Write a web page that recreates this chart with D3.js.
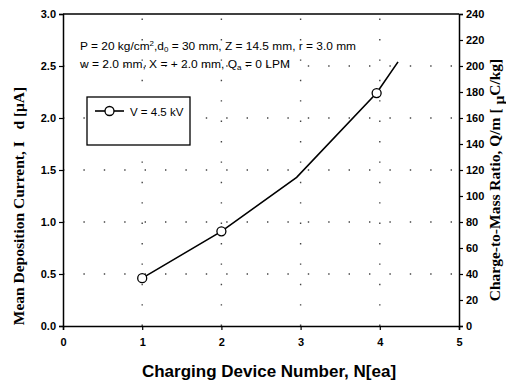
<!DOCTYPE html>
<html>
<head>
<meta charset="utf-8">
<script src="https://cdn.jsdelivr.net/npm/d3@7"></script>
<style>
  body { margin: 0; background: #fff; }
  svg { display: block; }
  .tick text { font-family: "Liberation Sans", Arial, sans-serif; font-weight: bold; font-size: 11px; fill: #000; }
</style>
</head>
<body>
<svg id="chart" width="506" height="387"></svg>
<script>
// Measured series (V = 4.5 kV)
const deviceNumber = [1, 2, 2.95, 3.96, 4.23];
const depositionCurrent = [0.46, 0.91, 1.43, 2.24, 2.54];
const hasMarker = [true, true, false, true, false];

const xTicks = [0, 1, 2, 3, 4, 5];
const yTicks = [0.0, 0.5, 1.0, 1.5, 2.0, 2.5, 3.0];
const y2Ticks = [0, 20, 40, 60, 80, 100, 120, 140, 160, 180, 200, 220, 240];

const svg = d3.select("#chart");
const m = { left: 63, right: 459, top: 14, bottom: 326 };

const x = d3.scaleLinear().domain([0, 5]).range([m.left, m.right]);
const y = d3.scaleLinear().domain([0, 3]).range([m.bottom, m.top]);
const y2 = d3.scaleLinear().domain([0, 240]).range([m.bottom, m.top]);

// sparse dotted grid
const grid = svg.append("g").attr("stroke", "#444").attr("stroke-width", 1.4)
  .attr("stroke-dasharray", "1.4,19");
grid.selectAll(".gx").data([1, 2, 3, 4]).join("line")
  .attr("x1", d => x(d)).attr("x2", d => x(d))
  .attr("y1", m.bottom).attr("y2", m.top);
grid.selectAll(".gy").data([0.5, 1.0, 1.5, 2.0, 2.5]).join("line")
  .attr("x1", m.left).attr("x2", m.right)
  .attr("y1", d => y(d)).attr("y2", d => y(d));

// axes
const xAxis = svg.append("g").attr("transform", `translate(0,${m.bottom})`)
  .call(d3.axisBottom(x).tickValues(xTicks).tickFormat(d3.format("d")).tickSize(4).tickPadding(8));
const yAxis = svg.append("g").attr("transform", `translate(${m.left},0)`)
  .call(d3.axisLeft(y).tickValues(yTicks).tickFormat(d3.format(".1f")).tickSize(4).tickPadding(3));
const y2Axis = svg.append("g").attr("transform", `translate(${m.right},0)`)
  .call(d3.axisRight(y2).tickValues(y2Ticks).tickFormat(d3.format("d")).tickSize(4).tickPadding(3));
[xAxis, yAxis, y2Axis].forEach(g => {
  g.select(".domain").attr("stroke", "#000").attr("stroke-width", 1.5);
  g.selectAll(".tick line").attr("stroke", "#000").attr("stroke-width", 1.2);
});
// top frame line
svg.append("line").attr("x1", m.left).attr("x2", m.right)
  .attr("y1", m.top).attr("y2", m.top).attr("stroke", "#000").attr("stroke-width", 1.5);

// series line
const pts = deviceNumber.map((d, i) => ({ n: d, v: depositionCurrent[i], mk: hasMarker[i] }));
svg.append("path").datum(pts)
  .attr("fill", "none").attr("stroke", "#000").attr("stroke-width", 1.6)
  .attr("d", d3.line().x(d => x(d.n)).y(d => y(d.v)));
svg.selectAll(".pt").data(pts.filter(d => d.mk)).join("circle")
  .attr("cx", d => x(d.n)).attr("cy", d => y(d.v)).attr("r", 4.5)
  .attr("fill", "#fff").attr("stroke", "#000").attr("stroke-width", 1.3);

// conditions
const note = svg.append("g").attr("font-family", "Liberation Sans, Arial, sans-serif")
  .attr("font-size", 10.5).attr("fill", "#000");
const t1 = note.append("text").attr("x", 80).attr("y", 50).attr("textLength", 276).attr("lengthAdjust", "spacingAndGlyphs");
t1.append("tspan").text("P = 20 kg/cm");
t1.append("tspan").attr("font-size", 7).attr("dy", -4).text("2");
t1.append("tspan").attr("dy", 4).text(",d");
t1.append("tspan").attr("font-size", 7).attr("dy", 2).text("0");
t1.append("tspan").attr("dy", -2).text(" = 30 mm, Z = 14.5 mm, r = 3.0 mm");
const t2 = note.append("text").attr("x", 80).attr("y", 68).attr("textLength", 210).attr("lengthAdjust", "spacingAndGlyphs");
t2.append("tspan").text("w = 2.0 mm, X = + 2.0 mm, Q");
t2.append("tspan").attr("font-size", 7).attr("dy", 2).text("a");
t2.append("tspan").attr("dy", -2).text(" = 0 LPM");

// legend
const lg = svg.append("g");
lg.append("rect").attr("x", 87).attr("y", 97).attr("width", 103).attr("height", 48)
  .attr("fill", "#fff").attr("stroke", "#000").attr("stroke-width", 1.3);
lg.append("line").attr("x1", 95).attr("x2", 124).attr("y1", 111).attr("y2", 111)
  .attr("stroke", "#000").attr("stroke-width", 1.6);
lg.append("circle").attr("cx", 109.5).attr("cy", 111).attr("r", 4.5)
  .attr("fill", "#fff").attr("stroke", "#000").attr("stroke-width", 1.3);
lg.append("text").attr("x", 130).attr("y", 115.5)
  .attr("font-family", "Liberation Sans, Arial, sans-serif").attr("font-size", 11.5)
  .text("V = 4.5 kV");

// axis titles
svg.append("text").attr("x", (m.left + m.right) / 2 + 8).attr("y", 377)
  .attr("text-anchor", "middle")
  .attr("font-family", "Liberation Sans, Arial, sans-serif").attr("font-weight", "bold").attr("font-size", 17)
  .text("Charging Device Number, N[ea]");

svg.append("text").attr("transform", "translate(24,206) rotate(-90)")
  .attr("text-anchor", "middle")
  .attr("font-family", "Liberation Serif, Times New Roman, serif").attr("font-weight", "bold").attr("font-size", 15.5)
  .text("Mean Deposition Current, I\u2002 d [\u03bcA]");

const rt = svg.append("text").attr("transform", "translate(500,180) rotate(-90)")
  .attr("text-anchor", "middle")
  .attr("font-family", "Liberation Serif, Times New Roman, serif").attr("font-weight", "bold").attr("font-size", 15.5);
rt.append("tspan").text("Charge-to-Mass Ratio, Q/m [  ");
rt.append("tspan").attr("dy", 4).text("\u03bc");
rt.append("tspan").attr("dy", -4).text("C/kg]");
</script>
</body>
</html>
